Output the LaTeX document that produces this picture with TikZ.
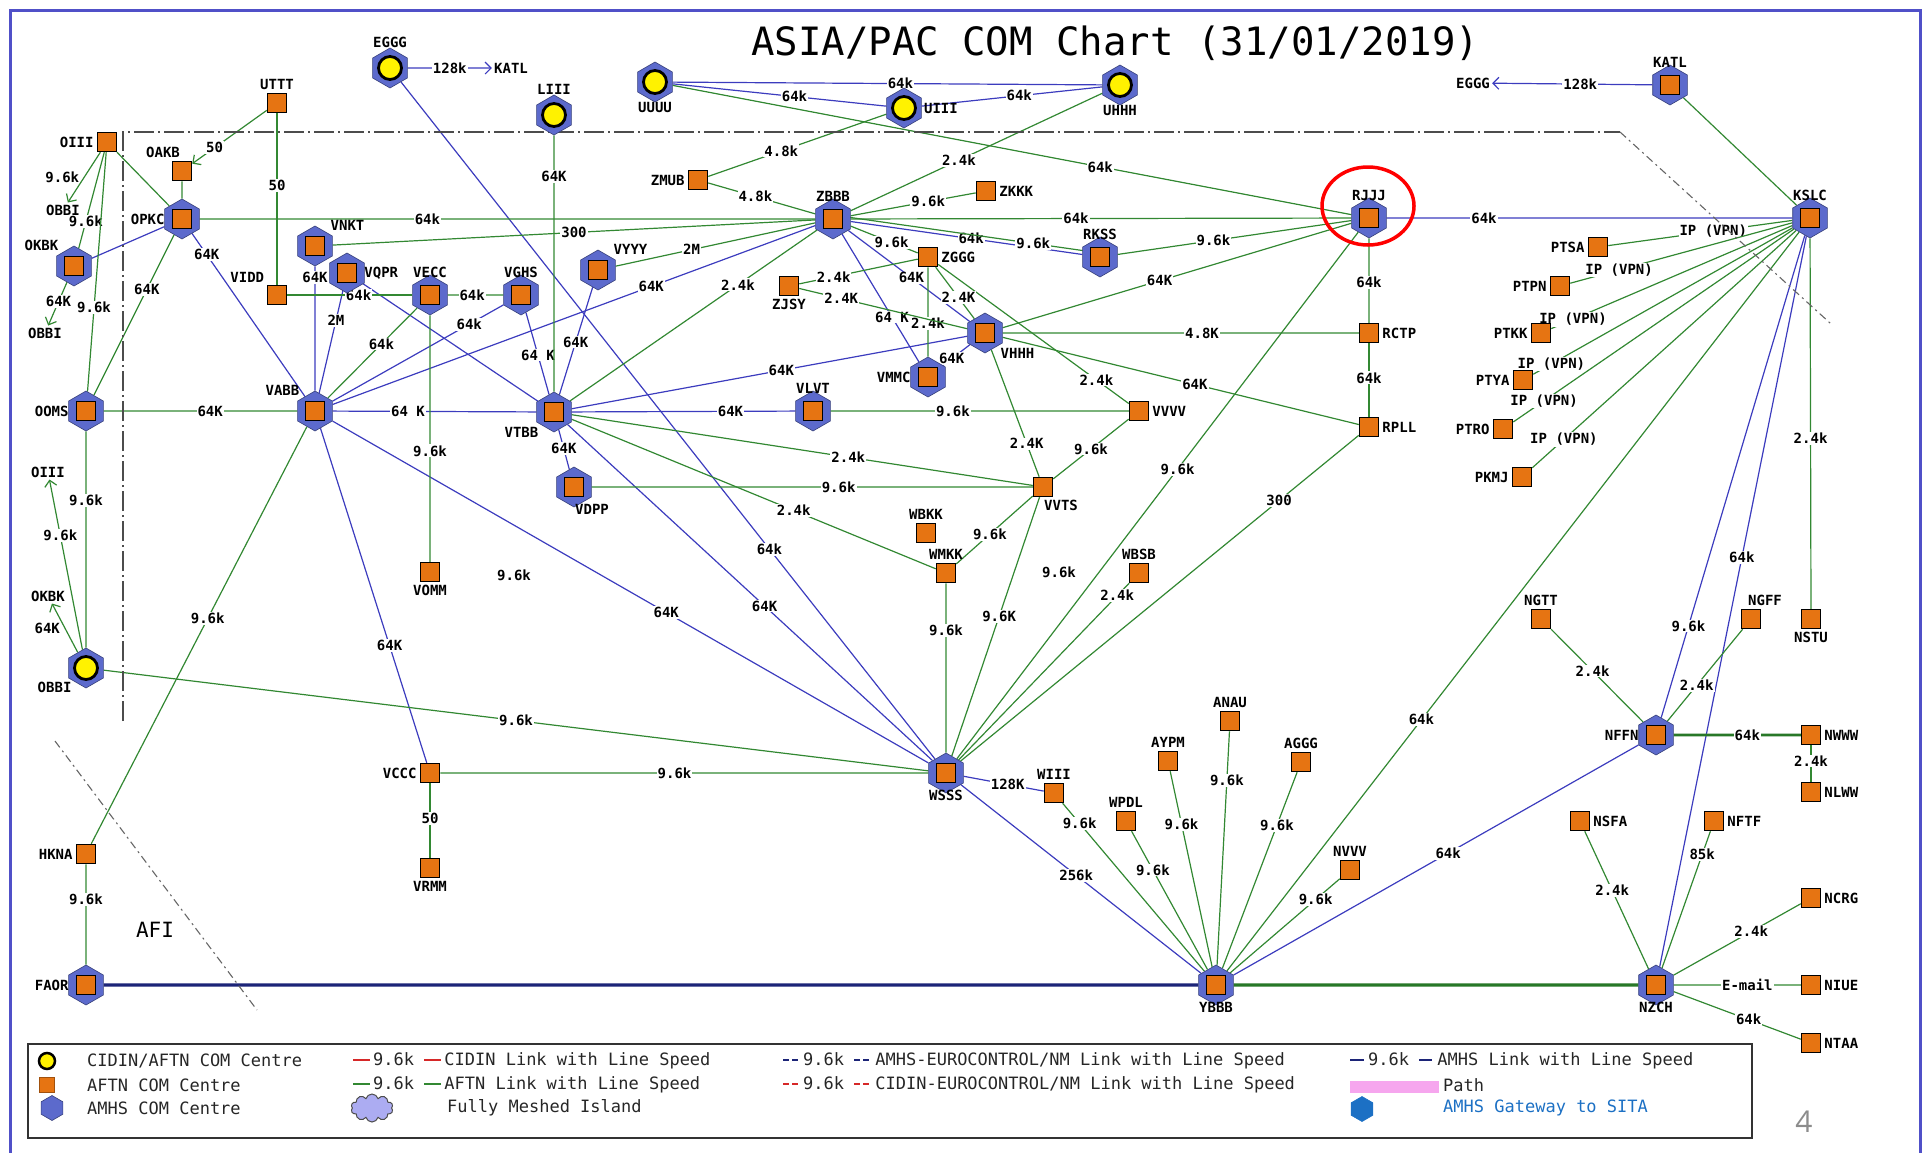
\documentclass[tikz,border=0pt]{standalone}
\usepackage{fontspec}
\setmonofont{DejaVu Sans Mono}
\newfontfamily\pagefont{Open Sans}
\usepackage{tikz}
\usetikzlibrary{shapes.geometric,shapes.symbols,arrows.meta}
\pgfdeclarelayer{edges}
\pgfsetlayers{edges,main}
\definecolor{aftnor}{RGB}{230,116,18}
\definecolor{amhsbl}{RGB}{92,106,204}
\definecolor{aftngr}{RGB}{50,136,50}
\definecolor{amhsln}{RGB}{60,60,190}
\definecolor{navyln}{RGB}{28,36,120}
\definecolor{thkgr}{RGB}{40,120,40}
\definecolor{framebl}{RGB}{80,80,200}
\definecolor{sitabl}{RGB}{28,112,196}
\definecolor{pathpk}{RGB}{246,166,238}
\definecolor{cloudvi}{RGB}{172,172,242}
\definecolor{cidinrd}{RGB}{214,40,40}

\begin{document}
\begin{tikzpicture}[
    x=1pt, y=-1pt,
    font=\ttfamily\bfseries\fontsize{14}{16}\selectfont,
    hexa/.style={regular polygon, regular polygon sides=6, rotate=30, minimum size=40pt, inner sep=0pt, fill=amhsbl, draw=amhsbl!60!black, line width=0.6pt},
    aftn/.style={rectangle, minimum size=19pt, inner sep=0pt, fill=aftnor, draw=black, line width=1.5pt},
    cidin/.style={circle, minimum size=23pt, inner sep=0pt, fill=yellow, draw=black, line width=2.8pt},
    lab/.style={inner sep=1pt, label distance=2pt},
    hl/.style={inner sep=1pt, label distance=6pt},
    gl/.style={aftngr, line width=1.2pt},
    bl/.style={amhsln, line width=1.2pt},
    thk/.style={line width=3.4pt},
    arr/.style={-{Straight Barb[length=6pt,width=12pt]}},
    lbl/.style={fill=white, inner sep=1pt, text=black},
    region/.style={black!70, line width=1.1pt, dash pattern=on 20pt off 4pt on 2pt off 4pt},
    legt/.style={font=\ttfamily\fontsize{17}{20}\selectfont, anchor=west, inner sep=0pt, text=black!85}
  ]
  \useasboundingbox (0,0) rectangle (1924,1152);
  \draw[framebl, line width=3pt] (10,1160) -- (10,10) -- (1920,10) -- (1920,1160);
  \node[font=\ttfamily\fontsize{39}{44}\selectfont, anchor=base west, inner sep=0pt] (title) at (751,55) {ASIA/PAC COM Chart (31/01/2019)};

  \draw[region] (123,721) -- (123,132) -- (1620,132);
  \draw[region, black!60, dash pattern=on 8pt off 4pt on 2pt off 4pt] (1620,132) -- (1830,323);
  \draw[region, black!60, dash pattern=on 8pt off 4pt on 2pt off 4pt] (55,741) -- (257,1010);
  \node[font=\ttfamily\fontsize{21}{24}\selectfont] (afi) at (155,930) {AFI};

  \node[hexa] (EGGG) at (390,68) {};   \node[cidin, label={[hl]above:EGGG}] (EGGGc) at (EGGG) {};
  \node[hexa] (LIII) at (554,115) {};  \node[cidin, label={[hl]above:LIII}] (LIIIc) at (LIII) {};
  \node[hexa] (UUUU) at (655,82) {};   \node[cidin, label={[hl]below:UUUU}] (UUUUc) at (UUUU) {};
  \node[hexa] (UIII) at (904,108) {};  \node[cidin, label={[hl]right:UIII}] (UIIIc) at (UIII) {};
  \node[hexa] (UHHH) at (1120,85) {};  \node[cidin, label={[hl]below:UHHH}] (UHHHc) at (UHHH) {};
  \node[hexa] (OBBI) at (86,668) {};   \node[cidin, label={[hl]below left:OBBI}] (OBBIc) at (OBBI) {};

  \node[hexa] (OPKC) at (182,219) {};  \node[aftn, label={[hl]left:OPKC}] (OPKCs) at (OPKC) {};
  \node[hexa] (OKBK) at (74,266) {};   \node[aftn, label={[hl]above left:OKBK}] (OKBKs) at (OKBK) {};
  \node[hexa] (VNKT) at (315,246) {};  \node[aftn, label={[hl]above right:VNKT}] (VNKTs) at (VNKT) {};
  \node[hexa] (VQPR) at (347,273) {};  \node[aftn, label={[hl]right:VQPR}] (VQPRs) at (VQPR) {};
  \node[hexa] (VECC) at (430,295) {};  \node[aftn, label={[hl]above:VECC}] (VECCs) at (VECC) {};
  \node[hexa] (VGHS) at (521,295) {};  \node[aftn, label={[hl]above:VGHS}] (VGHSs) at (VGHS) {};
  \node[hexa] (VYYY) at (598,270) {};  \node[aftn, label={[hl]above right:VYYY}] (VYYYs) at (VYYY) {};
  \node[hexa] (ZBBB) at (833,219) {};  \node[aftn, label={[hl]above:ZBBB}] (ZBBBs) at (ZBBB) {};
  \node[hexa] (RKSS) at (1100,257) {}; \node[aftn, label={[hl]above:RKSS}] (RKSSs) at (RKSS) {};
  \node[hexa] (RJJJ) at (1369,218) {}; \node[aftn, label={[hl]above:RJJJ}] (RJJJs) at (RJJJ) {};
  \node[hexa] (VHHH) at (985,333) {};  \node[aftn, label={[hl]below right:VHHH}] (VHHHs) at (VHHH) {};
  \node[hexa] (VMMC) at (928,377) {};  \node[aftn, label={[hl]left:VMMC}] (VMMCs) at (VMMC) {};
  \node[hexa] (OOMS) at (86,411) {};   \node[aftn, label={[hl]left:OOMS}] (OOMSs) at (OOMS) {};
  \node[hexa] (VABB) at (315,411) {};  \node[aftn, label={[hl]above left:VABB}] (VABBs) at (VABB) {};
  \node[hexa] (VTBB) at (554,412) {};  \node[aftn, label={[hl]below left:VTBB}] (VTBBs) at (VTBB) {};
  \node[hexa] (VLVT) at (813,411) {};  \node[aftn, label={[hl]above:VLVT}] (VLVTs) at (VLVT) {};
  \node[hexa] (VDPP) at (574,487) {};  \node[aftn, label={[hl,xshift=18pt]below:VDPP}] (VDPPs) at (VDPP) {};
  \node[hexa] (WSSS) at (946,773) {};  \node[aftn, label={[hl]below:WSSS}] (WSSSs) at (WSSS) {};
  \node[hexa] (FAOR) at (86,985) {};   \node[aftn, label={[hl]left:FAOR}] (FAORs) at (FAOR) {};
  \node[hexa] (YBBB) at (1216,985) {}; \node[aftn, label={[hl]below:YBBB}] (YBBBs) at (YBBB) {};
  \node[hexa] (KATL) at (1670,85) {};  \node[aftn, label={[hl]above:KATL}] (KATLs) at (KATL) {};
  \node[hexa] (KSLC) at (1810,218) {}; \node[aftn, label={[hl]above:KSLC}] (KSLCs) at (KSLC) {};
  \node[hexa] (NFFN) at (1656,735) {}; \node[aftn, label={[hl]left:NFFN}] (NFFNs) at (NFFN) {};
  \node[hexa] (NZCH) at (1656,985) {}; \node[aftn, label={[hl]below:NZCH}] (NZCHs) at (NZCH) {};

  \node[aftn, label={[lab]above:UTTT}] (UTTT) at (277,103) {};
  \node[aftn, label={[lab]left:OIII}] (OIII) at (107,142) {};
  \node[aftn, label={[lab,xshift=-19pt]above:OAKB}] (OAKB) at (182,171) {};
  \node[aftn, label={[lab]above left:VIDD}] (VIDD) at (277,295) {};
  \node[aftn, label={[lab]left:ZMUB}] (ZMUB) at (698,180) {};
  \node[aftn, label={[lab]right:ZKKK}] (ZKKK) at (986,191) {};
  \node[aftn, label={[lab]below:ZJSY}] (ZJSY) at (789,286) {};
  \node[aftn, label={[lab]right:ZGGG}] (ZGGG) at (928,257) {};
  \node[aftn, label={[lab]right:RCTP}] (RCTP) at (1369,333) {};
  \node[aftn, label={[lab]right:RPLL}] (RPLL) at (1369,427) {};
  \node[aftn, label={[lab]right:VVVV}] (VVVV) at (1139,411) {};
  \node[aftn, label={[lab,xshift=18pt]below:VVTS}] (VVTS) at (1043,487) {};
  \node[aftn, label={[lab]below:VOMM}] (VOMM) at (430,572) {};
  \node[aftn, label={[lab]above:WBKK}] (WBKK) at (926,533) {};
  \node[aftn, label={[lab]above:WMKK}] (WMKK) at (946,573) {};
  \node[aftn, label={[lab]above:WBSB}] (WBSB) at (1139,573) {};
  \node[aftn, label={[lab]left:VCCC}] (VCCC) at (430,773) {};
  \node[aftn, label={[lab]below:VRMM}] (VRMM) at (430,868) {};
  \node[aftn, label={[lab]left:HKNA}] (HKNA) at (86,854) {};
  \node[aftn, label={[lab]above:WIII}] (WIII) at (1054,793) {};
  \node[aftn, label={[lab]above:WPDL}] (WPDL) at (1126,821) {};
  \node[aftn, label={[lab]above:AYPM}] (AYPM) at (1168,761) {};
  \node[aftn, label={[lab]above:ANAU}] (ANAU) at (1230,721) {};
  \node[aftn, label={[lab]above:AGGG}] (AGGG) at (1301,762) {};
  \node[aftn, label={[lab]above:NVVV}] (NVVV) at (1350,870) {};
  \node[aftn, label={[lab]left:PTSA}] (PTSA) at (1598,247) {};
  \node[aftn, label={[lab]left:PTPN}] (PTPN) at (1560,286) {};
  \node[aftn, label={[lab]left:PTKK}] (PTKK) at (1541,333) {};
  \node[aftn, label={[lab]left:PTYA}] (PTYA) at (1523,380) {};
  \node[aftn, label={[lab]left:PTRO}] (PTRO) at (1503,429) {};
  \node[aftn, label={[lab]left:PKMJ}] (PKMJ) at (1522,477) {};
  \node[aftn, label={[lab]below:NSTU}] (NSTU) at (1811,619) {};
  \node[aftn, label={[lab]above:NGTT}] (NGTT) at (1541,619) {};
  \node[aftn, label={[lab,xshift=14pt]above:NGFF}] (NGFF) at (1751,619) {};
  \node[aftn, label={[lab]right:NWWW}] (NWWW) at (1811,735) {};
  \node[aftn, label={[lab]right:NLWW}] (NLWW) at (1811,792) {};
  \node[aftn, label={[lab]right:NSFA}] (NSFA) at (1580,821) {};
  \node[aftn, label={[lab]right:NFTF}] (NFTF) at (1714,821) {};
  \node[aftn, label={[lab]right:NCRG}] (NCRG) at (1811,898) {};
  \node[aftn, label={[lab]right:NIUE}] (NIUE) at (1811,985) {};
  \node[aftn, label={[lab]right:NTAA}] (NTAA) at (1811,1043) {};

  \node[inner sep=2pt] (tKATL) at (511,68) {KATL};
  \node[inner sep=2pt] (tEGGG) at (1473,83) {EGGG};
  \node[inner sep=2pt] (tOBBIa) at (63,210) {OBBI};
  \node[inner sep=2pt] (tOBBIb) at (45,333) {OBBI};
  \node[inner sep=2pt] (tOIII) at (48,472) {OIII};
  \node[inner sep=2pt] (tOKBK) at (48,596) {OKBK};
  \node (fl1) at (514,575) {9.6k};
  \node (fl2) at (1059,572) {9.6k};

  \begin{pgfonlayer}{edges}
    \draw[bl,arr] (EGGG) -- node[lbl]{128k} (tKATL);
    \draw[bl] (EGGG) -- node[lbl,pos=.69]{64k} (WSSS);
    \draw[bl] (UUUU) -- node[lbl,pos=.53]{64k} (UHHH);
    \draw[bl] (UUUU) -- node[lbl,pos=.57]{64k} (UIII);
    \draw[bl] (UIII) -- node[lbl,pos=.54]{64k} (UHHH);
    \draw[bl] (OKBK) -- (OPKC);
    \draw[bl] (OPKC) -- node[lbl,pos=.13]{64K} (VABB);
    \draw[bl] (VNKT) -- node[lbl,pos=.09]{64K} (VABB);
    \draw[bl] (VQPR) -- node[lbl,pos=.29]{2M} (VABB);
    \draw[bl] (VQPR) -- (VTBB);
    \draw[bl] (VGHS) -- node[lbl,pos=.2]{64k} (VABB);
    \draw[bl] (VGHS) -- node[lbl,pos=.52]{64 K} (VTBB);
    \draw[bl] (VYYY) -- node[lbl,pos=.51]{64K} (VTBB);
    \draw[bl] (VABB) -- node[lbl,pos=.66]{64K} (ZBBB);
    \draw[bl] (VABB) -- node[lbl,pos=.37]{64 K} (VTBB);
    \draw[bl] (VABB) -- node[lbl,pos=.65]{64K} (VCCC);
    \draw[bl] (VABB) -- node[lbl,pos=.56]{64K} (WSSS);
    \draw[bl] (VTBB) -- node[lbl,pos=.53]{64K} (VHHH);
    \draw[bl] (VTBB) -- node[lbl,pos=.71]{64K} (VLVT);
    \draw[bl] (VTBB) -- node[lbl,pos=.48]{64K} (VDPP);
    \draw[bl] (VTBB) -- node[lbl,pos=.54]{64K} (WSSS);
    \draw[bl] (ZBBB) -- node[lbl,pos=.52]{64K} (VHHH);
    \draw[bl] (ZBBB) -- node[lbl,pos=.65]{64 K} (VMMC);
    \draw[bl] (VMMC) -- node[lbl,pos=.32]{64K} (VHHH);
    \draw[bl] (ZBBB) -- node[lbl,pos=.52]{64k} (RKSS);
    \draw[bl] (RJJJ) -- node[lbl,pos=.24]{64k} (KSLC);
    \draw[bl,arr] (KATL) -- node[lbl,pos=.45]{128k} (tEGGG);
    \draw[bl] (KSLC) -- node[lbl,pos=.81]{9.6k} (NFFN);
    \draw[bl] (KSLC) -- node[lbl,pos=.44]{64k} (NZCH);
    \draw[bl] (NFFN) -- node[lbl,pos=.47]{64k} (YBBB);
    \draw[bl] (WSSS) -- node[lbl,pos=.55]{128K} (WIII);
    \draw[bl] (WSSS) -- node[lbl,pos=.48]{256k} (YBBB);
    \draw[navyln,thk] (FAOR) -- (YBBB);

    \draw[gl] (UUUU) -- node[lbl,pos=.63]{64k} (RJJJ);
    \draw[gl] (UHHH) -- node[lbl,pos=.57]{2.4k} (ZBBB);
    \draw[gl] (UIII) -- node[lbl,pos=.59]{4.8k} (ZMUB);
    \draw[gl] (ZMUB) -- node[lbl,pos=.44]{4.8k} (ZBBB);
    \draw[gl] (LIII) -- node[lbl,pos=.16]{64K} (VTBB);
    \draw[gl,arr] (UTTT) -- node[lbl,pos=.7]{50} (OAKB);
    \draw[gl,line width=2.6pt] (UTTT) -- node[lbl,pos=.42]{50} (VIDD);
    \draw[gl,arr] (OIII) -- node[pos=.5,left=1pt,text=black]{9.6k} (tOBBIa);
    \draw[gl] (OIII) -- node[lbl,pos=.72]{9.6k} (OKBK);
    \draw[gl] (OIII) -- node[lbl,pos=.65]{9.6k} (OOMS);
    \draw[gl] (OIII) -- (OPKC);
    \draw[gl] (OAKB) -- (OPKC);
    \draw[gl,arr] (OKBK) -- node[lbl,pos=.45]{64K} (tOBBIb);
    \draw[gl] (OPKC) -- node[lbl,pos=.34]{64K} (OOMS);
    \draw[gl] (OPKC) -- node[lbl,pos=.37]{64k} (ZBBB);
    \draw[gl] (ZBBB) -- node[lbl,pos=.45]{64k} (RJJJ);
    \draw[gl] (VNKT) -- node[lbl,pos=.5]{300} (ZBBB);
    \draw[gl] (VIDD) -- node[lbl,pos=.57]{64k} (VECC);
    \draw[gl] (VECC) -- node[lbl,pos=.44]{64k} (VGHS);
    \draw[gl] (VECC) -- node[lbl,pos=.4]{64k} (VABB);
    \draw[gl] (VECC) -- node[lbl,pos=.55]{9.6k} (VOMM);
    \draw[gl] (VYYY) -- node[lbl,pos=.38]{2M} (ZBBB);
    \draw[gl] (VTBB) -- node[lbl,pos=.68]{2.4k} (ZBBB);
    \draw[gl] (OOMS) -- node[lbl,pos=.55]{64K} (VABB);
    \draw[gl] (VABB) -- node[lbl,pos=.46]{9.6k} (HKNA);
    \draw[gl] (VLVT) -- node[lbl,pos=.41]{9.6k} (VVVV);
    \draw[gl] (VDPP) -- node[lbl,pos=.56]{9.6k} (VVTS);
    \draw[gl] (VTBB) -- node[lbl,pos=.6]{2.4k} (VVTS);
    \draw[gl] (VTBB) -- node[lbl,pos=.61]{2.4k} (WMKK);
    \draw[gl] (OOMS) -- node[lbl,pos=.32]{9.6k} (OBBI);
    \draw[gl,arr] (OBBI) -- node[lbl,pos=.67]{9.6k} (tOIII);
    \draw[gl,arr] (OBBI) -- node[midway,left=1pt,text=black]{64K} (tOKBK);
    \draw[gl] (OBBI) -- node[lbl,pos=.5]{9.6k} (WSSS);
    \draw[gl] (VCCC) -- node[lbl,pos=.48]{9.6k} (WSSS);
    \draw[gl] (VCCC) -- node[lbl,pos=.47]{50} (VRMM);
    \draw[gl] (HKNA) -- node[lbl,pos=.35]{9.6k} (FAOR);
    \draw[thkgr,thk] (YBBB) -- (NZCH);
    \draw[gl] (WIII) -- node[lbl,pos=.12]{9.6k} (YBBB);
    \draw[gl] (WPDL) -- node[lbl,pos=.28]{9.6k} (YBBB);
    \draw[gl] (AYPM) -- node[lbl,pos=.27]{9.6k} (YBBB);
    \draw[gl] (ANAU) -- node[lbl,pos=.21]{9.6k} (YBBB);
    \draw[gl] (AGGG) -- node[lbl,pos=.27]{9.6k} (YBBB);
    \draw[gl] (NVVV) -- node[lbl,pos=.22]{9.6k} (YBBB);
    \draw[gl] (KSLC) -- node[lbl,pos=.66]{64k} (YBBB);
    \draw[gl] (WMKK) -- node[lbl,pos=.28]{9.6k} (WSSS);
    \draw[gl] (WSSS) -- node[lbl,pos=.54]{9.6K} (VVTS);
    \draw[gl] (WSSS) -- node[lbl,pos=.93]{2.4k} (WBSB);
    \draw[gl] (WSSS) -- node[lbl,pos=.55]{9.6k} (RJJJ);
    \draw[gl] (WSSS) -- node[lbl,pos=.8]{300} (RPLL);
    \draw[gl] (VVTS) -- node[lbl,pos=.5]{9.6k} (VVVV);
    \draw[gl] (VVTS) -- node[lbl,pos=.26]{2.4K} (VHHH);
    \draw[gl] (VVTS) -- node[lbl,pos=.56]{9.6k} (WMKK);
    \draw[gl] (VHHH) -- node[lbl,pos=.56]{4.8K} (RCTP);
    \draw[gl] (VHHH) -- node[lbl,pos=.45]{64K} (RJJJ);
    \draw[gl] (VHHH) -- node[lbl,pos=.54]{64K} (RPLL);
    \draw[gl] (ZGGG) -- node[lbl,pos=.83]{2.4k} (VVVV);
    \draw[gl] (ZGGG) -- node[lbl,pos=.59]{2.4K} (VHHH);
    \draw[gl] (ZGGG) -- node[lbl,pos=.63]{2.4k} (VMMC);
    \draw[gl] (ZGGG) -- node[lbl,pos=.71]{2.4k} (ZJSY);
    \draw[gl] (ZJSY) -- node[lbl,pos=.25]{2.4K} (VHHH);
    \draw[gl] (ZBBB) -- node[lbl,pos=.61]{9.6k} (ZGGG);
    \draw[gl] (ZBBB) -- node[lbl,pos=.62]{9.6k} (ZKKK);
    \draw[gl] ([yshift=4pt]ZBBB.center) -- node[lbl,pos=.75]{9.6k} ([yshift=4pt]RKSS.center);
    \draw[gl] (RKSS) -- node[lbl,pos=.41]{9.6k} (RJJJ);
    \draw[gl] (RJJJ) -- node[lbl,pos=.52]{64k} (RCTP);
    \draw[gl] (RCTP) -- node[lbl,pos=.47]{64k} (RPLL);
    \draw[gl] (KATL) -- (KSLC);
    \draw[gl] (KSLC) -- node[lbl,pos=.43]{IP (VPN)} (PTSA);
    \draw[gl] (KSLC) -- node[lbl,pos=.78]{IP (VPN)} (PTPN);
    \draw[gl] (KSLC) -- node[lbl,pos=.91]{IP (VPN)} (PTKK);
    \draw[gl] (KSLC) -- node[lbl,pos=.93]{IP (VPN)} (PTYA);
    \draw[gl] (KSLC) -- node[lbl,pos=.89]{IP (VPN)} (PTRO);
    \draw[gl] (KSLC) -- node[lbl,pos=.88]{IP (VPN)} (PKMJ);
    \draw[gl] (KSLC) -- node[lbl,pos=.54]{2.4k} (NSTU);
    \draw[gl] (NGTT) -- node[lbl,pos=.45]{2.4k} (NFFN);
    \draw[gl] (NGFF) -- node[lbl,pos=.61]{2.4k} (NFFN);
    \draw[thkgr,line width=2.6pt] (NFFN) -- node[lbl,pos=.58]{64k} (NWWW);
    \draw[gl] (NWWW) -- node[lbl,pos=.43]{2.4k} (NLWW);
    \draw[gl] (NSFA) -- node[lbl,pos=.43]{2.4k} (NZCH);
    \draw[gl] (NFTF) -- node[lbl,pos=.17]{85k} (NZCH);
    \draw[gl] (NZCH) -- node[lbl,pos=.61]{2.4k} (NCRG);
    \draw[gl] (NZCH) -- node[lbl,pos=.58]{E-mail} (NIUE);
    \draw[gl] (NZCH) -- node[lbl,pos=.59]{64k} (NTAA);
  \end{pgfonlayer}

  \draw[red, line width=3.5pt] (1368,206) ellipse [x radius=46pt, y radius=39pt];

  \draw[black!80, line width=1.5pt] (28,1044) rectangle (1752,1138);
  \node[circle, fill=yellow, draw=black, line width=2.5pt, minimum size=16pt, inner sep=0pt] (lgc) at (47,1061) {};
  \node[rectangle, fill=aftnor, draw=aftnor!70!black, line width=0.6pt, minimum size=15pt, inner sep=0pt] (lgs) at (47,1085) {};
  \node[hexa, minimum size=25pt] (lgh) at (52,1108) {};
  \node[legt] (lt1) at (87,1061) {CIDIN/AFTN COM Centre};
  \node[legt] (lt2) at (87,1085) {AFTN COM Centre};
  \node[legt] (lt3) at (87,1108) {AMHS COM Centre};
  \node[legt] (lt4) at (353,1061) {\textcolor{cidinrd}{\rule[5pt]{17pt}{2pt}}\hspace{3pt}9.6k \textcolor{cidinrd}{\rule[5pt]{17pt}{2pt}}\hspace{3pt}CIDIN Link with Line Speed};
  \node[legt] (lt5) at (353,1085) {\textcolor{aftngr}{\rule[5pt]{17pt}{2pt}}\hspace{3pt}9.6k \textcolor{aftngr}{\rule[5pt]{17pt}{2pt}}\hspace{3pt}AFTN Link with Line Speed};
  \node[cloud, cloud puffs=10, aspect=1.6, minimum width=42pt, minimum height=28pt, inner sep=0pt, fill=cloudvi, draw=black!70, line width=1pt] (lgcl) at (372,1108) {};
  \node[legt] (lt6) at (447,1108) {Fully Meshed Island};
  \node[legt] (lt7) at (783,1061) {\textcolor{navyln}{\rule[5pt]{6pt}{2pt}\hspace{3pt}\rule[5pt]{6pt}{2pt}}\hspace{5pt}9.6k \textcolor{navyln}{\rule[5pt]{6pt}{2pt}\hspace{3pt}\rule[5pt]{6pt}{2pt}}\hspace{6pt}AMHS-EUROCONTROL/NM Link with Line Speed};
  \node[legt] (lt8) at (783,1085) {\textcolor{cidinrd}{\rule[5pt]{6pt}{2pt}\hspace{3pt}\rule[5pt]{6pt}{2pt}}\hspace{5pt}9.6k \textcolor{cidinrd}{\rule[5pt]{6pt}{2pt}\hspace{3pt}\rule[5pt]{6pt}{2pt}}\hspace{6pt}CIDIN-EUROCONTROL/NM Link with Line Speed};
  \node[legt] (lt9) at (1350,1061) {\textcolor{navyln}{\rule[5pt]{14pt}{2pt}}\hspace{4pt}9.6k \textcolor{navyln}{\rule[5pt]{13pt}{2pt}}\hspace{5pt}AMHS Link with Line Speed};
  \node[fill=pathpk, minimum width=89pt, minimum height=12pt, inner sep=0pt] (lgp) at (1394.5,1087) {};
  \node[legt] (lt10) at (1443,1085) {Path};
  \node[hexa, minimum size=25pt, fill=sitabl, draw=sitabl] (lgsita) at (1362,1109) {};
  \node[legt, text=sitabl] (lt11) at (1443,1108) {AMHS Gateway to SITA};
  \node[font=\pagefont\fontsize{30}{34}\selectfont, text=black!45] (pgno) at (1804,1122) {4};
\end{tikzpicture}
\end{document}
